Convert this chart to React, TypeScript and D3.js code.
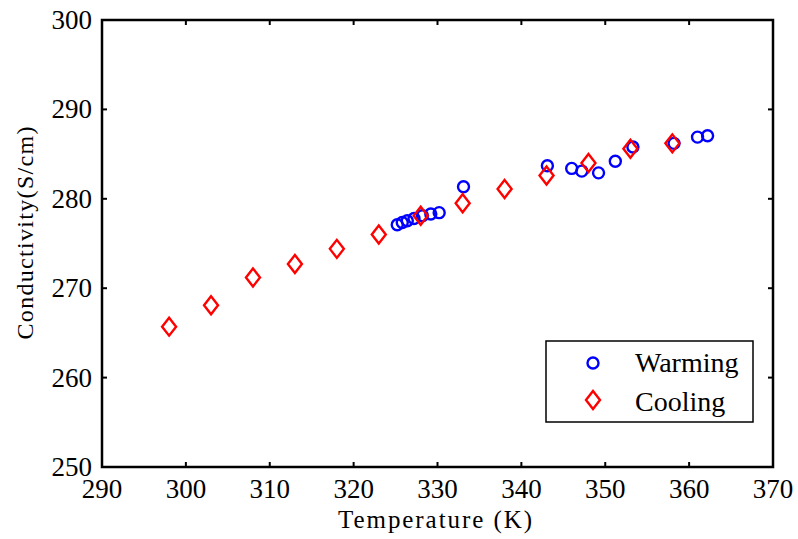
import React from "react";
import * as d3 from "d3";

const width = 798;
const height = 539;
const margin = { top: 20, right: 25, bottom: 72, left: 102 };

const warmingTemp = [325.2, 325.8, 326.4, 327.2, 328.2, 329.2, 330.2, 333.1, 343.1, 346.0, 347.2, 349.2, 351.2, 353.3, 358.2, 361.0, 362.2];
const warmingCond = [277.1, 277.35, 277.55, 277.8, 278.1, 278.3, 278.45, 281.35, 283.7, 283.4, 283.1, 282.9, 284.2, 285.8, 286.2, 286.9, 287.05];

const coolingTemp = [298, 303, 308, 313, 318, 323, 328, 333, 338, 343, 348, 353, 358];
const coolingCond = [265.7, 268.1, 271.2, 272.7, 274.4, 276.0, 278.1, 279.5, 281.1, 282.6, 284.0, 285.6, 286.2];

const xTicks = [290, 300, 310, 320, 330, 340, 350, 360, 370];
const yTicks = [250, 260, 270, 280, 290, 300];

const font = "'Liberation Serif', 'Times New Roman', serif";
const tickLen = 5;

const diamond = (cx: number, cy: number) =>
    `M${cx},${cy - 9}L${cx + 7},${cy}L${cx},${cy + 9}L${cx - 7},${cy}Z`;

export default function App() {
    const x = d3.scaleLinear().domain([290, 370]).range([margin.left, width - margin.right]);
    const y = d3.scaleLinear().domain([250, 300]).range([height - margin.bottom, margin.top]);
    const [x0, x1] = x.range();
    const [y0, y1] = y.range();

    const warming = warmingTemp.map((t, i) => ({ t, c: warmingCond[i] }));
    const cooling = coolingTemp.map((t, i) => ({ t, c: coolingCond[i] }));

    return (
        <svg width={width} height={height} style={{ position: "absolute", left: 0, top: 0, background: "#fff" }}>
            <rect width={width} height={height} fill="#fff" />
            {/* ticks on all four sides, pointing in */}
            {xTicks.map(t => (
                <g key={"xt" + t} stroke="#000" strokeWidth={2}>
                    <line x1={x(t)} x2={x(t)} y1={y0} y2={y0 - tickLen} />
                    <line x1={x(t)} x2={x(t)} y1={y1} y2={y1 + tickLen} />
                </g>
            ))}
            {yTicks.map(t => (
                <g key={"yt" + t} stroke="#000" strokeWidth={2}>
                    <line x1={x0} x2={x0 + tickLen} y1={y(t)} y2={y(t)} />
                    <line x1={x1} x2={x1 - tickLen} y1={y(t)} y2={y(t)} />
                </g>
            ))}
            <rect x={x0} y={y1} width={x1 - x0} height={y0 - y1} fill="none" stroke="#000" strokeWidth={2.5} />

            {xTicks.map(t => (
                <text key={"xl" + t} x={x(t)} y={y0 + 31} textAnchor="middle" fontFamily={font} fontSize={27}>{t}</text>
            ))}
            {yTicks.map(t => (
                <text key={"yl" + t} x={x0 - 10} y={y(t) + 9} textAnchor="end" fontFamily={font} fontSize={27}>{t}</text>
            ))}

            <text x={435} y={528} textAnchor="middle" fontFamily={font} fontSize={25} textLength={194}>Temperature (K)</text>
            <text transform="translate(33,233) rotate(-90)" textAnchor="middle" fontFamily={font} fontSize={24} textLength={213}>Conductivity(S/cm)</text>

            {warming.map((d, i) => (
                <circle key={"w" + i} cx={x(d.t)} cy={y(d.c)} r={5.5} fill="none" stroke="#0000ff" strokeWidth={2.4} />
            ))}
            {cooling.map((d, i) => (
                <path key={"c" + i} d={diamond(x(d.t), y(d.c))} fill="none" stroke="#ff0000" strokeWidth={2.4} />
            ))}

            <g>
                <rect x={546} y={341} width={207} height={81} fill="#fff" stroke="#000" strokeWidth={1.5} />
                <circle cx={593} cy={363} r={5.5} fill="none" stroke="#0000ff" strokeWidth={2.4} />
                <text x={635} y={372} fontFamily={font} fontSize={28}>Warming</text>
                <path d={diamond(593, 400)} fill="none" stroke="#ff0000" strokeWidth={2.4} />
                <text x={635} y={411} fontFamily={font} fontSize={28}>Cooling</text>
            </g>
        </svg>
    );
}
